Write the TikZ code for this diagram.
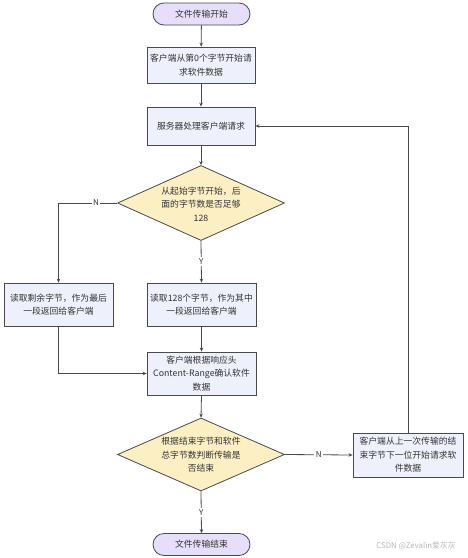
\documentclass[tikz,border=0pt]{standalone}
\usepackage{fontspec}
\setmainfont{Noto Sans CJK SC}
\usetikzlibrary{arrows.meta,shapes.geometric}
\definecolor{termfill}{HTML}{E6DEFA}
\definecolor{boxfill}{HTML}{EEF1FB}
\definecolor{decfill}{HTML}{FDEFC4}
\definecolor{edgecol}{HTML}{4A4A4A}
\definecolor{txtcol}{HTML}{333333}
\begin{document}
\begin{tikzpicture}[x=1pt,y=-1pt,
  every node/.style={font=\fontsize{8.8}{13.5}\selectfont, text=txtcol},
  term/.style={draw=edgecol, line width=0.8pt, fill=termfill, rounded corners=11pt, minimum width=97pt, minimum height=22pt, inner sep=0pt},
  procbox/.style={draw=edgecol, line width=0.8pt, fill=boxfill, minimum width=108pt, minimum height=38pt, inner sep=0pt, align=center},
  decshape/.style={draw=edgecol, line width=0.8pt, fill=decfill, diamond, minimum width=167pt, minimum height=75pt, inner sep=0pt},
  dectext/.style={align=center, inner sep=0pt},
  conn/.style={draw=edgecol, line width=0.8pt, -{Stealth[length=4pt,width=3.5pt]}},
  lbl/.style={fill=white, inner sep=1.5pt, font=\fontsize{8}{10}\selectfont}
]
\useasboundingbox (0,0) rectangle (467,558);
\fill[white] (0,0) rectangle (467,558);

\node[term] (start) at (201.5,14) {文件传输开始};
\node[procbox, minimum height=36pt] (b1) at (201,65) {客户端从第0个字节开始请\\求软件数据};
\node[procbox] (b2) at (201,126) {服务器处理客户端请求};
\node[decshape] (d1) at (201,203) {};
\node[dectext] (d1t) at (201,204) {从起始字节开始，后\\面的字节数是否足够\\128};
\node[procbox, minimum width=109pt, minimum height=43pt] (bl) at (58.5,304.5) {读取剩余字节，作为最后\\一段返回给客户端};
\node[procbox, minimum width=109pt, minimum height=43pt] (br) at (201.5,304.5) {读取128个字节，作为其中\\一段返回给客户端};
\node[procbox, minimum width=109pt, minimum height=43pt] (b3) at (201.5,373.5) {客户端根据响应头\\Content-Range确认软件\\数据};
\node[decshape, minimum height=73pt] (d2) at (201,454.5) {};
\node[dectext] (d2t) at (201,455) {根据结束字节和软件\\总字节数判断传输是\\否结束};
\node[procbox, minimum width=110pt, minimum height=44pt] (rb) at (408,455) {客户端从上一次传输的结\\束字节下一位开始请求软\\件数据};
\node[term] (end) at (201.5,544.5) {文件传输结束};

\node[text=black!28, font=\fontsize{7.8}{9}\selectfont] (wm) at (416,546) {CSDN @Zevalin爱灰灰};

\draw[conn] (start) -- (b1);
\draw[conn] (b1) -- (b2);
\draw[conn] (b2) -- (d1);
\draw[conn] (d1.west) -| node[lbl, pos=0.18] (ln1) {N} (bl.north);
\draw[conn] (d1.south) -- node[lbl] (ly1) {Y} (br.north);
\draw[conn] (bl.south) |- (b3.west);
\draw[conn] (br.south) -- (b3.north);
\draw[conn] (b3.south) -- (d2.north);
\draw[conn] (d2.east) -- node[lbl] (ln2) {N} (rb.west);
\draw[conn] (d2.south) -- node[lbl] (ly2) {Y} (end.north);
\draw[conn] (rb.north) |- (b2.east);
\end{tikzpicture}
\end{document}
